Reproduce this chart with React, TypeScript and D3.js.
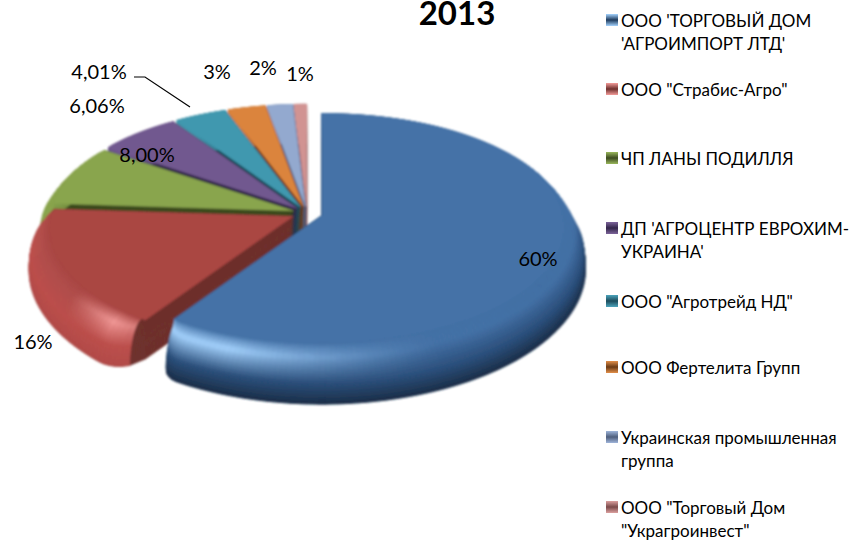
import React from "react";
import * as d3 from "d3";

const title = "2013";
const categories = [
  ["ООО 'ТОРГОВЫЙ ДОМ", "'АГРОИМПОРТ ЛТД'"],
  ['ООО "Страбис-Агро"'],
  ["ЧП ЛАНЫ ПОДИЛЛЯ"],
  ["ДП 'АГРОЦЕНТР ЕВРОХИМ-", "УКРАИНА'"],
  ['ООО "Агротрейд НД"'],
  ["ООО Фертелита Групп"],
  ["Украинская промышленная", "группа"],
  ['ООО "Торговый Дом', '"Украгроинвест"'],
];
const values = [60, 16, 8, 6.06, 4.01, 3, 2, 1];
const valueLabels = ["60%", "16%", "8,00%", "6,06%", "4,01%", "3%", "2%", "1%"];
const colors = ["#4572a7", "#aa4643", "#89a54e", "#71588f", "#4198af", "#db843d", "#93a9cf", "#d19392"];
const highlights = ["#a6d4ff", "#f49c9a", "#9ab85c", "#7d649b", "#4ca4bc", "#e4904a", "#9fb5da", "#dca09f"];
const rimMids = ["#2c507c", "#bd504d", "#89a54e", "#71588f", "#4198af", "#db843d", "#93a9cf", "#d19392"];
const rimEnds = ["#1a2c45", "#b34b48", "#7a9444", "#5e4878", "#358096", "#b86c2e", "#7e93b6", "#b07c7b"];
const walls = ["#1d3a5c", "#6e302d", "#3c4a20", "#33264a", "#1c4c5c", "#6a3a14", "#4e5e7c", "#7a4a4a"];
const labelX = [538, 33, 147, 97, 99, 217, 263, 300];
const labelY = [258, 341, 154, 105, 71, 71, 67, 73];
const legendTextY = [[20, 43], [89], [158], [228, 251], [301], [367], [437, 460], [507, 530]];
const cornerStartDeg = [1, 7, 3, 3, 3, 3, 3, 1];
const cornerEndDeg = [6, 7, 3, 3, 3, 3, 1, 1];

const R = 262, P = 0.111, K = 0.508, H = 39, E = 15;
const cx = 307, cy = 213;
const flatR = (th: number) => 0.85 + 0.07 * Math.sin(th) ** 2;
const backFactor = (th: number) => (Math.cos(th) > 0 ? 1 - Math.cos(th) ** 0.7 : 1);

function proj(theta: number, r: number): [number, number] {
  const s = 1 / (1 + P * Math.cos(theta));
  return [R * r * Math.sin(theta) * s, -K * R * r * Math.cos(theta) * s];
}

const arcs = d3.pie<number>().sort(null).startAngle(0).endAngle(Math.PI * 2)(values);
const line = d3.line();

function App() {
  const shapes: React.ReactNode[] = [];
  for (let i = values.length - 1; i >= 0; i--) {
    const a = arcs[i];
    const mid = (a.startAngle + a.endAngle) / 2;
    const [ox, oy] = proj(mid, E / R);
    const ax = cx + ox, ay = cy + oy;
    const span = a.endAngle - a.startAngle;
    const ds = (cornerStartDeg[i] * Math.PI) / 180;
    const de = (cornerEndDeg[i] * Math.PI) / 180;
    const n = Math.max(4, Math.ceil(span / 0.02));
    const angs = d3.range(n + 1).map((k) => a.startAngle + (span * k) / n);
    const g = (th: number) => {
      const us = th - a.startAngle < ds ? 1 - (th - a.startAngle) / ds : 0;
      const ue = a.endAngle - th < de ? 1 - (a.endAngle - th) / de : 0;
      const u = Math.max(us, ue);
      return Math.sqrt(Math.max(0, 1 - u * u));
    };
    const pt = (th: number, t: number): [number, number] => {
      const fl = flatR(th);
      const r = fl + (1 - fl) * Math.sin((t * Math.PI) / 2) * g(th) * backFactor(th);
      const [x, y] = proj(th, r);
      return [ax + x, ay + y + H * (1 - Math.cos((t * Math.PI) / 2))];
    };
    const steps = 20;
    for (let s = steps; s >= 0; s--) {
      const t = s / steps;
      const apex: [number, number] = [ax, ay + H * (1 - Math.cos((t * Math.PI) / 2))];
      const poly = [apex, ...angs.map((th) => pt(th, t)), apex];
      shapes.push(<path key={`w${i}-${s}`} d={line(poly) as string} fill={walls[i]} stroke={walls[i]} strokeWidth={0.6} />);
    }
    const lightAt = (th: number) => {
      const deg = (th * 180) / Math.PI;
      if (i === 0) return Math.max(0, Math.min(1, (deg - 155) / 45)) ** 1.3;
      if (i === 1) return 0.12 + 0.88 * Math.max(0, 1 - Math.abs(deg - 222) / 14);
      return 0;
    };
    const bands = 20;
    for (let b = bands - 1; b >= 0; b--) {
      const t0 = b / bands, t1 = (b + 1) / bands;
      for (let k = 0; k < n; k++) {
        const th0 = angs[k], th1 = angs[k + 1];
        const thm = (th0 + th1) / 2;
        const dStart = thm - a.startAngle, dEnd = a.endAngle - thm;
        if (dStart < ds * 0.15 || dEnd < de * (i === 0 ? 0.02 : 0.15)) continue;
        const L = lightAt(thm);
        const tm = (t0 + t1) / 2;
        const topC = d3.interpolateRgb(colors[i], highlights[i])(L);
        const peak = 0.3, knee = 0.68;
        const c = tm < peak
          ? d3.interpolateRgb(colors[i], topC)(tm / peak)
          : tm < knee
            ? d3.interpolateRgb(topC, rimMids[i])((tm - peak) / (knee - peak))
            : d3.interpolateRgb(rimMids[i], rimEnds[i])((tm - knee) / (1 - knee));
        const poly = [pt(th0, t0), pt(th1, t0), pt(th1, t1), pt(th0, t1)];
        shapes.push(<path key={`b${i}-${b}-${k}`} d={(line(poly) as string) + "Z"} fill={c} stroke={c} strokeWidth={0.6} />);
      }
    }
    const top: [number, number][] = [[ax, ay], ...angs.map((th) => pt(th, 0))];
    shapes.push(<path key={`t${i}`} d={(line(top) as string) + "Z"} fill={colors[i]} stroke={colors[i]} strokeWidth={0.5} />);
  }

  return (
    <svg width={854} height={559} style={{ position: "absolute", left: 0, top: 0, background: "#fff" }} fontFamily="Lato, 'Open Sans', sans-serif">
      <defs>
        <filter id="soft" x="-5%" y="-5%" width="110%" height="110%"><feGaussianBlur stdDeviation="1" /></filter>
        {colors.map((c, i) => (
          <linearGradient key={i} id={`lg${i}`} x1="0" y1="0" x2="0" y2="1">
            <stop offset="0" stopColor={highlights[i]} />
            <stop offset="0.5" stopColor={walls[i]} />
            <stop offset="1" stopColor={highlights[i]} />
          </linearGradient>
        ))}
      </defs>
      <g filter="url(#soft)">{shapes}</g>
      <text x={457} y={25} textAnchor="middle" fontSize={33} fontWeight={700} fill="#000">{title}</text>
      <polyline points="134,77 145,77 190,107" fill="none" stroke="#000" strokeWidth={1.2} />
      {valueLabels.map((l, i) => (
        <text key={l} x={labelX[i]} y={labelY[i]} textAnchor="middle" dominantBaseline="central" fontSize={20} fill="#000">{l}</text>
      ))}
      {categories.map((lines, i) => (
        <g key={i}>
          <rect x={606} y={legendTextY[i][0] - 6} width={12} height={12} fill={`url(#lg${i})`} />
          {lines.map((t, j) => (
            <text key={j} x={621} y={legendTextY[i][j]} dominantBaseline="central" fontSize={17} fill="#000">{t}</text>
          ))}
        </g>
      ))}
    </svg>
  );
}

export default App;
